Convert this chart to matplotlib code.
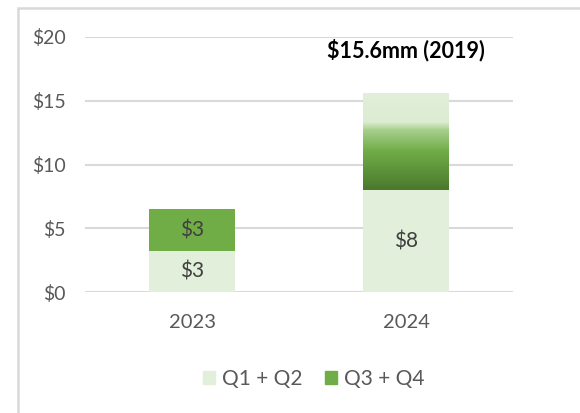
import numpy as np
import matplotlib
matplotlib.use("Agg")
import matplotlib.pyplot as plt
from matplotlib.colors import LinearSegmentedColormap
from matplotlib.patches import Rectangle, Patch

plt.rcParams["font.family"] = ["Lato", "DejaVu Sans"]

years = ["2023", "2024"]
q12 = [3.2, 8.0]
q34 = [3.3, 7.6]
yticks = [0, 5, 10, 15, 20]
note = "$15.6mm (2019)"

light = "#E2EFDA"
green = "#70AD47"
grey = "#595959"

fig = plt.figure(figsize=(5.8, 4.13), dpi=100)
ax = fig.add_axes([85 / 580, 1 - 292 / 413, 428 / 580, 255 / 413])

x = np.arange(len(years))
w = 0.4
ax.bar(x, q12, width=w, color=light, zorder=2)
# 2023 top segment solid, 2024 top segment drawn as a gradient
top = ax.bar(x, q34, width=w, bottom=q12, color=[green, "none"], zorder=2)

# gradient fill for 2024 Q3+Q4
r = top[1]
x0, y0 = r.get_x(), r.get_y()
x1, y1 = x0 + r.get_width(), y0 + r.get_height()
stops = [(0.0, "#4A782D"), (0.40, green), (0.62, "#A8CF8C"), (0.70, "#DCEBD2"), (1.0, light)]
cmap = LinearSegmentedColormap.from_list("grad", stops)
grad = np.linspace(0, 1, 256).reshape(-1, 1)
ax.imshow(grad, extent=[x0, x1, y0, y1], origin="lower", cmap=cmap,
          aspect="auto", zorder=2)

# value labels
lab = dict(ha="center", va="center", fontsize=15, color="#404040", zorder=3)
ax.text(x[0], q12[0] / 2, f"${q12[0]:.0f}", **lab)
ax.text(x[0], q12[0] + q34[0] / 2, f"${q34[0]:.0f}", **lab)
ax.text(x[1], q12[1] / 2, f"${q12[1]:.0f}", **lab)

ax.text(x[1], 19.0, note, ha="center", va="center", fontsize=15.5,
        fontweight="bold", color="black", zorder=3)

ax.set_xlim(-0.5, 1.5)
ax.set_ylim(0, 20)
ax.set_yticks(yticks)
ax.set_yticklabels([f"${v}" for v in yticks])
ax.set_xticks(x)
ax.set_xticklabels(years)
ax.tick_params(axis="y", length=0, pad=14, labelsize=14, labelcolor=grey)
ax.tick_params(axis="x", length=0, pad=16, labelsize=14.5, labelcolor=grey)
ax.grid(axis="y", color="#D9D9D9", linewidth=1.5, zorder=0)
ax.set_axisbelow(True)
for s in ax.spines.values():
    s.set_visible(False)

handles = [Patch(color=light, label="Q1 + Q2"), Patch(color=green, label="Q3 + Q4")]
leg = fig.legend(handles=handles, loc="center", bbox_to_anchor=(314 / 580, 1 - 379 / 413),
                 ncol=2, frameon=False, fontsize=15, handlelength=0.55,
                 handleheight=0.55, handletextpad=0.35, columnspacing=1.1)
for t in leg.get_texts():
    t.set_color(grey)

# outer frame (left and top edges visible)
fig.add_artist(Rectangle((18 / 580, -0.1), 1.2, 1.1 - 8 / 413,
                         transform=fig.transFigure, fill=False,
                         edgecolor="#D9D9D9", linewidth=1.8))

fig.savefig("out.png", dpi=100)
